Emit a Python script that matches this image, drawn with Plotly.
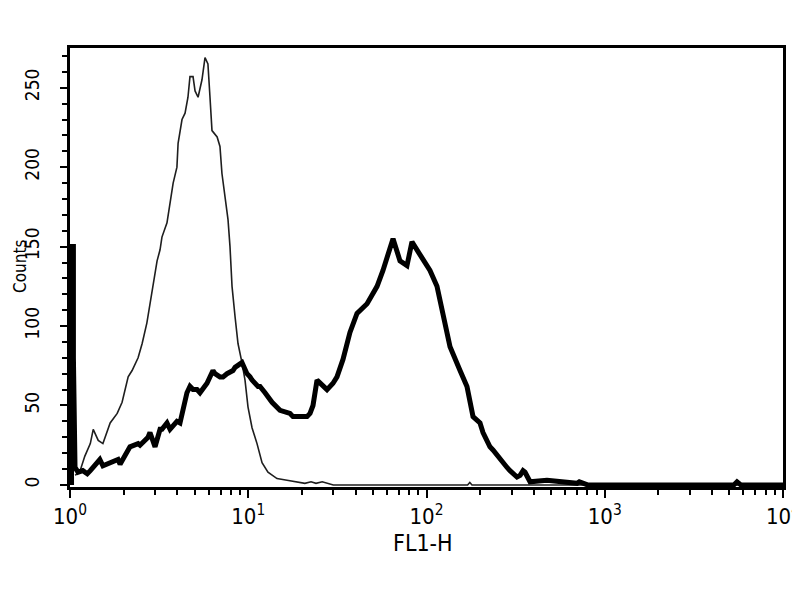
import plotly.graph_objects as go

# Isotype control (thin line): FL1-H channel value vs counts
control_x = [1.07, 1.14, 1.21, 1.30, 1.35, 1.44, 1.53, 1.68, 1.84, 1.96, 2.12, 2.23, 2.41, 2.54,
             2.70, 2.81, 2.92, 3.08, 3.20, 3.28, 3.50, 3.79, 3.98, 4.04, 4.25, 4.42, 4.59, 4.71,
             4.90, 5.03, 5.23, 5.50, 5.72, 5.94, 6.10, 6.26, 6.69, 6.94, 7.12, 7.41, 7.70, 7.90,
             8.11, 8.43, 8.76, 9.22, 9.59, 9.97, 10.5, 11.2, 11.95, 12.9, 14.5, 16.5, 19.0, 20.8,
             22.5, 24.0, 26.0, 28.0, 30.0, 170.0, 175.0, 180.0, 10000.0]
control_y = [6, 9, 18, 26, 35, 28, 26, 39, 45, 52, 68, 72, 80, 89,
             102, 114, 127, 141, 148, 156, 165, 190, 200, 215, 230, 234, 244, 257,
             257, 248, 244, 255, 269, 265, 244, 223, 219, 213, 196, 181, 167, 150,
             125, 106, 89, 77, 66, 49, 36, 26, 14, 8, 4, 3, 1.5, 1,
             2, 1, 2, 1, 0, 0, 1.5, 0, 0]

# Stained sample (thick line)
sample_x = [1.02, 1.02, 1.045, 1.045, 1.067, 1.11, 1.18, 1.25, 1.30, 1.47, 1.53, 1.68, 1.86, 1.91,
            2.12, 2.17, 2.41, 2.47, 2.74, 2.81, 3.00, 3.20, 3.28, 3.50, 3.64, 3.98, 4.14, 4.31,
            4.53, 4.71, 4.90, 5.16, 5.36, 5.87, 6.34, 6.51, 6.94, 7.22, 7.60, 8.21, 8.43, 9.22,
            9.84, 10.23, 10.5, 11.35, 11.64, 12.42, 13.24, 13.6, 15.07, 17.15, 17.83, 18.8, 21.36,
            22.21, 23.08, 24.31, 26.27, 27.66, 29.89, 31.47, 34.0, 37.2, 40.75, 46.4, 52.8, 57.0,
            64.9, 71.0, 77.7, 82.9, 91.9, 104.6, 114.5, 123.8, 135.5, 154.2, 168.7, 182.4, 199.6,
            207.5, 227.0, 236.0, 258.5, 283.0, 294.0, 322.0, 335.0, 348.0, 357.0, 381.0, 474.0,
            561.0, 640.0, 699.0, 720.0, 800.0, 5300.0, 5520.0, 5800.0, 10000.0]
sample_y = [0, 150, 150, 80, 11, 8, 9, 7, 9, 16, 12, 14, 16, 13,
            22, 24, 26, 25, 30, 33, 24, 35, 35, 39, 35, 40, 39, 47,
            58, 62, 60, 60, 58, 64, 72, 70, 68, 68, 70, 72, 74, 77,
            70, 68, 66, 62, 62, 58, 53, 52, 47, 45, 43, 43, 43,
            45, 50, 66, 62, 60, 64, 68, 79, 96, 108, 114, 125, 135,
            155, 141, 138, 153, 145, 135, 125, 106, 87, 72, 62, 43, 39,
            33, 24, 22, 16, 11, 9, 5, 6, 9, 8, 2, 3,
            2, 2, 1, 2, 0, 0, 2, 0, 0]

x_tickvals = [1, 10, 100, 1000, 10000]
x_ticktext = ["10<sup>0</sup>", "10<sup>1</sup>", "10<sup>2</sup>", "10<sup>3</sup>", "10<sup>4</sup>"]
x_minor = [m * 10 ** d for d in range(4) for m in range(2, 10)]
y_tickvals = [0, 50, 100, 150, 200, 250]

FONT = "Liberation Sans Narrow, DejaVu Sans Condensed, Liberation Sans, Arial, sans-serif"

fig = go.Figure()
fig.add_trace(go.Scatter(x=control_x, y=control_y, mode="lines",
                         line=dict(color="#1e1e1e", width=1.6), showlegend=False))
fig.add_trace(go.Scatter(x=sample_x, y=sample_y, mode="lines",
                         line=dict(color="black", width=5), showlegend=False))

# The page body adds an 8px offset, so the figure is 8px smaller and margins are shifted.
fig.update_layout(
    width=792, height=592,
    margin=dict(l=62, r=17, t=40, b=113, autoexpand=False),
    paper_bgcolor="white", plot_bgcolor="white",
    font=dict(family=FONT, color="black"),
    annotations=[
        dict(text="FL1-H", xref="paper", yref="paper", x=(423 - 70) / 713, y=-(543 - 487) / 439,
             xanchor="center", yanchor="middle", showarrow=False, font=dict(size=23)),
        dict(text="Counts", xref="paper", yref="paper", x=(20 - 70) / 713, y=(487 - 267) / 439,
             xanchor="center", yanchor="middle", textangle=-90, showarrow=False, font=dict(size=17)),
    ],
)
fig.update_xaxes(
    type="log", range=[0, 4], automargin=False,
    tickvals=x_tickvals, ticktext=x_ticktext, ticklabeloverflow="allow",
    ticks="outside", ticklen=8, tickwidth=2, tickcolor="black",
    minor=dict(tickvals=x_minor, ticks="outside", ticklen=5, tickwidth=1.5, tickcolor="black"),
    showline=True, linewidth=2.5, linecolor="black", mirror=True,
    showgrid=False, zeroline=False,
    tickfont=dict(size=22),
)
fig.update_yaxes(
    range=[-1.3, 275], automargin=False,
    tickvals=y_tickvals, tickangle=-90, ticklabelstandoff=14,
    ticks="outside", ticklen=7, tickwidth=2, tickcolor="black",
    minor=dict(dtick=10, ticks="outside", ticklen=5, tickwidth=1.5, tickcolor="black"),
    showline=True, linewidth=2.5, linecolor="black", mirror=True,
    showgrid=False, zeroline=False,
    tickfont=dict(size=19),
)

fig.write_html("out.html")
